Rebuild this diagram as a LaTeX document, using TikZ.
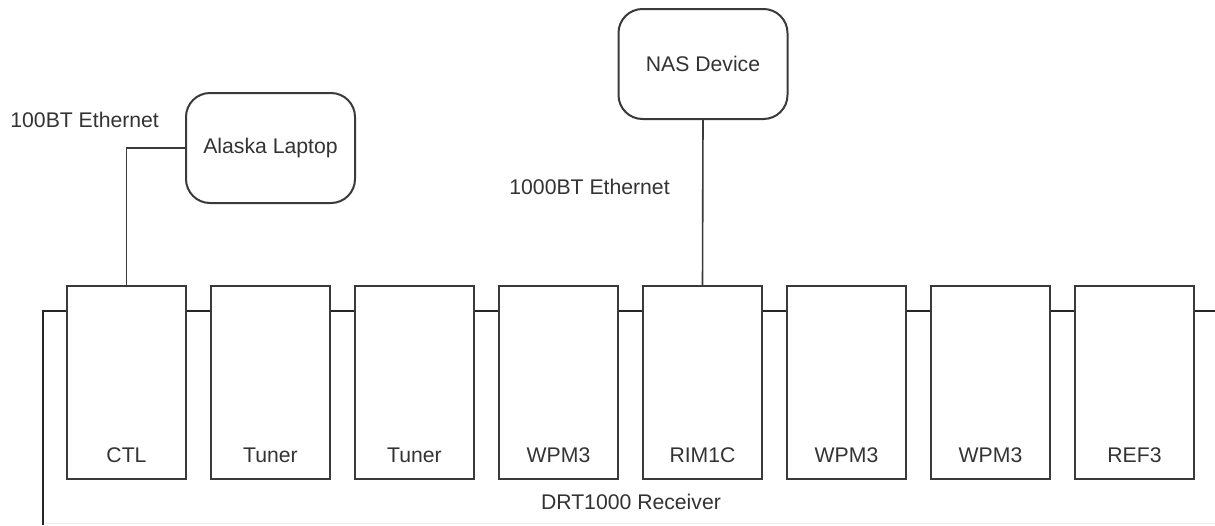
\documentclass[tikz,border=0pt]{standalone}
\usepackage{fontspec}
\setmainfont{Liberation Sans}
\usepackage{xcolor}
\usetikzlibrary{positioning}
\definecolor{linegray}{HTML}{3A3A3A}
\definecolor{textgray}{HTML}{333333}

\begin{document}
\begin{tikzpicture}[
    x=0.5pt, y=-0.5pt,
    node distance=72pt,
    font=\fontsize{10.6}{12.7}\selectfont,
    text=textgray,
    module/.style={rectangle, draw=linegray, line width=1pt, minimum width=59.5pt, minimum height=96.5pt, label={[anchor=base, label distance=-8.6pt]south:#1}},
    device/.style={rectangle, rounded corners=12pt, draw=linegray, line width=1pt, minimum width=84.5pt, minimum height=55pt},
    link/.style={draw=linegray, line width=0.8pt},
    bus/.style={draw=black!85, line width=1.3pt}
]
\useasboundingbox (0,0) rectangle (1215,525);

\node [module=CTL] (ctl) at (126.5,382.5) {};
\node [module=Tuner, right of=ctl] (tuna) {};
\node [module=Tuner, right of=tuna] (tunb) {};
\node [module=WPM3, right of=tunb] (wpma) {};
\node [module=RIM1C, right of=wpma] (rim) {};
\node [module=WPM3, right of=rim] (wpmb) {};
\node [module=WPM3, right of=wpmb] (wpmc) {};
\node [module=REF3, right of=wpmc] (ref) {};

\node [device] (laptop) at (270.5,148) {Alaska Laptop};
\node [device] (nas) at (703,64) {NAS Device};

\node [anchor=west, inner sep=0pt] (fastlbl) at (10,120) {100BT Ethernet};
\node [anchor=west, inner sep=0pt] (gigalbl) at (509,187) {1000BT Ethernet};
\node (rxlbl) at (631,502) {DRT1000 Receiver};

\coordinate (busin) at (43,311);
\coordinate (busfoot) at (43,525);
\coordinate (busend) at (1215,311);

\draw [bus] (busfoot) -- (busin) -- (ctl.west |- busin);
\foreach \a/\b in {ctl/tuna, tuna/tunb, tunb/wpma, wpma/rim, rim/wpmb, wpmb/wpmc, wpmc/ref}
    \draw [bus] (\a.east |- busin) -- (\b.west |- busin);
\draw [bus] (ref.east |- busin) -- (busend);

\draw [link] (laptop.west) -| (ctl.north);
\draw [link] (nas.south) -- (rim.north);

\draw [gray!15] (45,523) -- (1215,523);

\end{tikzpicture}
\end{document}
